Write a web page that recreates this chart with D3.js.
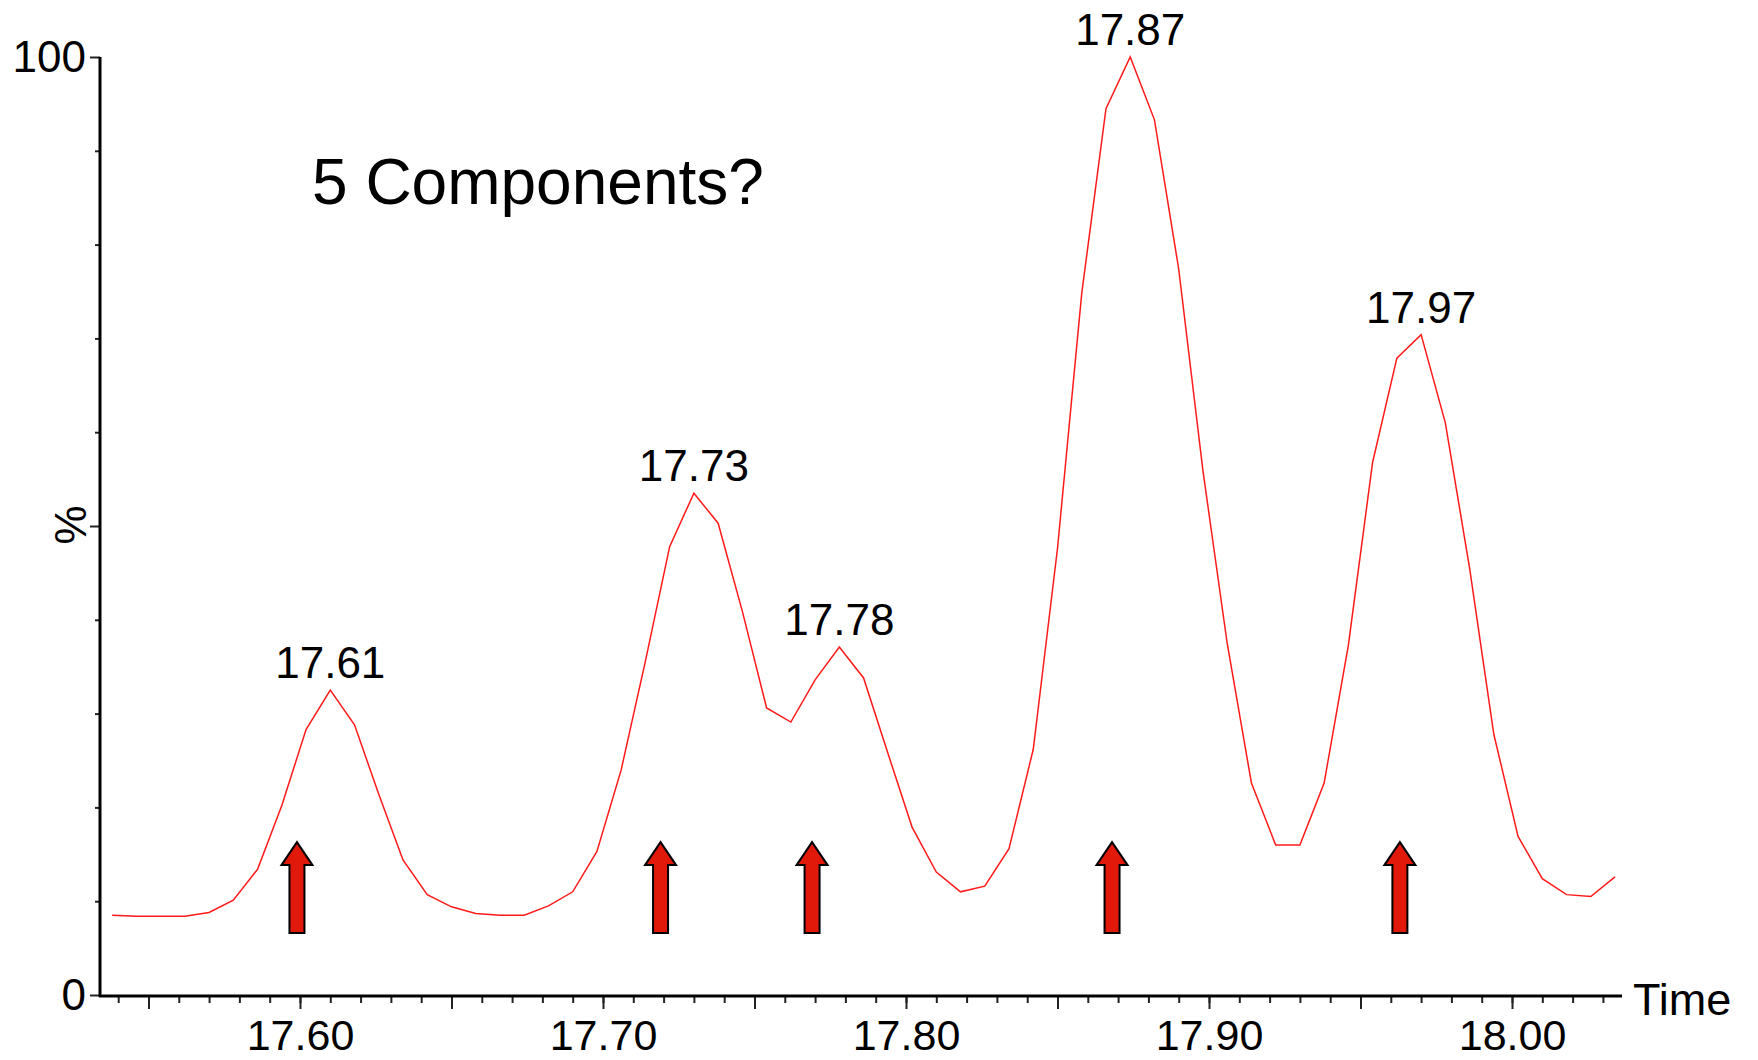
<!doctype html>
<html>
<head>
<meta charset="utf-8">
<script src="https://d3js.org/d3.v7.min.js"></script>
<style>
  body { margin: 0; background: #fff; }
  text { font-family: "Liberation Sans", Arial, sans-serif; fill: #000; }
</style>
</head>
<body>
<svg id="chart" width="1758" height="1060"></svg>
<script>
// retention time (min) of each scan
var times = [17.538, 17.546, 17.554, 17.562, 17.570, 17.578, 17.586, 17.594, 17.602, 17.610,
             17.618, 17.626, 17.634, 17.642, 17.650, 17.658, 17.666, 17.674, 17.682, 17.690,
             17.698, 17.706, 17.714, 17.722, 17.730, 17.738, 17.746, 17.754, 17.762, 17.770,
             17.778, 17.786, 17.794, 17.802, 17.810, 17.818, 17.826, 17.834, 17.842, 17.850,
             17.858, 17.866, 17.874, 17.882, 17.890, 17.898, 17.906, 17.914, 17.922, 17.930,
             17.938, 17.946, 17.954, 17.962, 17.970, 17.978, 17.986, 17.994, 18.002, 18.010,
             18.018, 18.026, 18.034];
// relative intensity (%)
var intensity = [8.5, 8.4, 8.4, 8.4, 8.8, 10.1, 13.4, 20.2, 28.3, 32.5,
                 28.8, 21.4, 14.4, 10.7, 9.4, 8.7, 8.5, 8.5, 9.5, 11.0,
                 15.3, 24.0, 35.6, 47.8, 53.5, 50.3, 40.9, 30.6, 29.1, 33.6,
                 37.1, 33.8, 25.8, 17.9, 13.1, 11.0, 11.6, 15.6, 26.2, 47.6,
                 74.8, 94.5, 100, 93.3, 77.4, 55.9, 37.5, 22.6, 16.0, 16.0,
                 22.6, 37.3, 56.8, 67.9, 70.4, 61.0, 45.5, 27.8, 16.9, 12.4,
                 10.7, 10.5, 12.6];
var peakLabels = ["17.61", "17.73", "17.78", "17.87", "17.97"];
var arrowTimes = [17.599, 17.719, 17.769, 17.868, 17.963];
var xTickValues = [17.60, 17.70, 17.80, 17.90, 18.00];
var xTickLabels = ["17.60", "17.70", "17.80", "17.90", "18.00"];
var yTickValues = [0, 100];
var yTickLabels = ["0", "100"];

var svg = d3.select("#chart");
var data = times.map(function(t, i) { return {t: t, v: intensity[i]}; });

var x = d3.scaleLinear().domain([17.534, 18.0363]).range([100, 1622]);
var y = d3.scaleLinear().domain([0, 100]).range([995, 57]);

// minor x ticks every 0.01
svg.append("g")
   .attr("transform", "translate(0,996)")
   .call(d3.axisBottom(x).tickValues(x.ticks(50)).tickSize(7).tickFormat(""))
   .call(function(g) { g.select(".domain").remove(); });
// half ticks at .x5
svg.append("g")
   .attr("transform", "translate(0,996)")
   .call(d3.axisBottom(x).tickValues(xTickValues.map(function(d) { return d - 0.05; }).concat([18.05]))
         .tickSize(13).tickFormat(""))
   .call(function(g) { g.select(".domain").remove(); });
// labelled x ticks
var xAxis = svg.append("g")
   .attr("transform", "translate(0,996)")
   .call(d3.axisBottom(x).tickValues(xTickValues).tickSize(13).tickPadding(10)
         .tickFormat(function(d, i) { return xTickLabels[i]; }));
xAxis.select(".domain").remove();
xAxis.selectAll("text").style("font-size", "43px").style("font-family", "'Liberation Sans', Arial, sans-serif").attr("fill", "#000");

// y axis ticks
var yAxis = svg.append("g")
   .attr("transform", "translate(100,0)")
   .call(d3.axisLeft(y).tickValues(d3.range(10, 100, 10).filter(function(d) { return d != 50; }))
         .tickSize(5).tickFormat(""));
yAxis.select(".domain").remove();
var yAxis2 = svg.append("g")
   .attr("transform", "translate(100,0)")
   .call(d3.axisLeft(y).tickValues([0, 50, 100]).tickSize(10).tickPadding(4)
         .tickFormat(function(d) { var k = yTickValues.indexOf(d); return k < 0 ? "" : yTickLabels[k]; }));
yAxis2.select(".domain").remove();
yAxis2.selectAll("text").style("font-size", "44px").style("font-family", "'Liberation Sans', Arial, sans-serif").attr("fill", "#000");
svg.selectAll(".tick line").attr("stroke", "#222").attr("stroke-width", 2);

// axis lines
svg.append("line").attr("x1", 100).attr("x2", 100).attr("y1", y(100)).attr("y2", 997)
   .attr("stroke", "#000").attr("stroke-width", 3);
svg.append("line").attr("x1", 99).attr("x2", 1622).attr("y1", 996).attr("y2", 996)
   .attr("stroke", "#000").attr("stroke-width", 3);

svg.append("text")
   .attr("x", 1633).attr("y", 1015)
   .attr("font-size", "45px")
   .text("Time");

svg.append("text")
   .attr("transform", "translate(86,525) rotate(-90)")
   .attr("text-anchor", "middle")
   .attr("font-size", "44px")
   .text("%");

// chromatogram trace
svg.append("path")
   .datum(data)
   .attr("d", d3.line().x(function(d) { return x(d.t); }).y(function(d) { return y(d.v); }))
   .attr("fill", "none")
   .attr("stroke", "#ff1a1a")
   .attr("stroke-width", 1.5);

// peak apex labels
peakLabels.forEach(function(lab) {
  var t0 = +lab;
  var near = data.filter(function(d) { return Math.abs(d.t - t0) <= 0.0101; });
  var top = d3.greatest(near, function(d) { return d.v; });
  svg.append("text")
     .attr("x", x(top.t)).attr("y", y(top.v) - 12)
     .attr("text-anchor", "middle")
     .attr("font-size", "44px")
     .text(lab);
});

// component arrows
var tipY = y(16.3), neckY = y(13.85), baseY = y(6.6);
svg.selectAll(".arrow")
   .data(arrowTimes)
   .enter().append("path")
   .attr("class", "arrow")
   .attr("d", function(d) {
     var cx = x(d);
     return "M" + cx + "," + tipY +
            "L" + (cx + 15.5) + "," + neckY +
            "L" + (cx + 7.5) + "," + neckY +
            "L" + (cx + 7.5) + "," + baseY +
            "L" + (cx - 7.5) + "," + baseY +
            "L" + (cx - 7.5) + "," + neckY +
            "L" + (cx - 15.5) + "," + neckY + "Z";
   })
   .attr("fill", "#e0190b")
   .attr("stroke", "#000")
   .attr("stroke-width", 2);

svg.append("text")
   .attr("x", 312).attr("y", 204)
   .attr("font-size", "64px")
   .text("5 Components?");
</script>
</body>
</html>
